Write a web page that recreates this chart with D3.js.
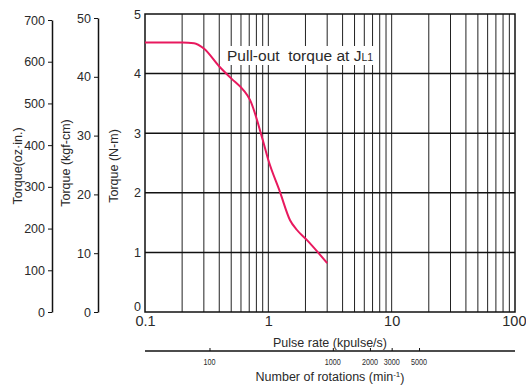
<!DOCTYPE html>
<html lang="en">
<head>
  <meta charset="utf-8">
  <title>Pull-out torque</title>
  <style>
    body { margin: 0; background: #fff; }
    svg { display: block; font-family: "Liberation Sans", Arial, sans-serif; }
    text { fill: #2a2a2a; }
  </style>
</head>
<body>
  <div id="chart"></div>

  <script src="https://d3js.org/d3.v7.min.js"></script>
  <script type="text/javascript">
    // pull-out torque curve, pulse rate (kpulse/s) vs torque (N-m)
    const pulseRate = [0.1, 0.2, 0.25, 0.3, 0.4, 0.5, 0.63, 0.71, 0.9, 1.0, 1.24, 1.5, 1.7, 2.05, 3.0];
    const torqueNm  = [4.52, 4.52, 4.51, 4.42, 4.12, 3.92, 3.72, 3.56, 2.89, 2.55, 2.02, 1.54, 1.38, 1.21, 0.82];

    const nmTicks  = [0, 1, 2, 3, 4, 5];
    const kgfTicks = [0, 10, 20, 30, 40, 50];
    const ozTicks  = [0, 100, 200, 300, 400, 500, 600, 700];
    const pulseTicks = [0.1, 1, 10, 100];
    const rpmTicks = [100, 1000, 2000, 3000, 5000];

    const width = 526;
    const height = 385;
    const plot = { left: 145, right: 515, top: 14, bottom: 312 };

    const svg = d3.select("#chart").append("svg")
      .attr("width", width)
      .attr("height", height);

    const x = d3.scaleLog()
      .domain([0.1, 100])
      .range([plot.left, plot.right]);
    const y = d3.scaleLinear()
      .domain([0, 5])
      .range([plot.bottom, plot.top]);
    // 1 kpulse/s = 300 min-1
    const xRpm = d3.scaleLog()
      .domain([30, 30000])
      .range([plot.left, plot.right]);
    const yKgf = d3.scaleLinear()
      .domain([0, 50])
      .range([plot.bottom, 18]);
    const yOz = d3.scaleLinear()
      .domain([0, 700])
      .range([plot.bottom, 20]);

    // vertical grid
    const minor = [];
    [0.1, 1, 10].forEach(d => {
      for (let i = 2; i <= 9; i++) minor.push(d * i);
    });
    minor.push(1, 10);
    svg.append("g")
      .selectAll("line")
      .data(minor)
      .join("line")
      .attr("x1", d => x(d))
      .attr("x2", d => x(d))
      .attr("y1", plot.top)
      .attr("y2", plot.bottom)
      .attr("stroke", "#222")
      .attr("stroke-width", 1);

    // horizontal grid
    svg.append("g")
      .selectAll("line")
      .data([1, 2, 3, 4])
      .join("line")
      .attr("x1", plot.left)
      .attr("x2", plot.right)
      .attr("y1", d => y(d))
      .attr("y2", d => y(d))
      .attr("stroke", "#111")
      .attr("stroke-width", 1.5);

    svg.append("rect")
      .attr("x", plot.left)
      .attr("y", plot.top)
      .attr("width", plot.right - plot.left)
      .attr("height", plot.bottom - plot.top)
      .attr("fill", "none")
      .attr("stroke", "#111")
      .attr("stroke-width", 1.5);

    // curve label with white box
    const lab = svg.append("g").attr("transform", "translate(227,61)");
    const labText = lab.append("text")
      .attr("x", 0)
      .attr("y", 0)
      .attr("font-size", 15.5)
      .attr("xml:space", "preserve")
      .style("white-space", "pre")
      .text("Pull-out  torque at J");
    labText.append("tspan").attr("font-size", 10.5).text("L1");
    const bb = labText.node().getBBox();
    lab.insert("rect", "text")
      .attr("x", bb.x - 3)
      .attr("y", bb.y - 1)
      .attr("width", bb.width + 6)
      .attr("height", bb.height + 2)
      .attr("fill", "#fff");

    // curve
    const pts = pulseRate.map((p, i) => [p, torqueNm[i]]);
    const line = d3.line()
      .x(d => x(d[0]))
      .y(d => y(d[1]))
      .curve(d3.curveMonotoneX);
    svg.append("path")
      .datum(pts)
      .attr("d", line)
      .attr("fill", "none")
      .attr("stroke", "#e8195e")
      .attr("stroke-width", 2);

    // N-m labels (no ticks)
    svg.append("g")
      .attr("transform", `translate(${plot.left},0)`)
      .call(d3.axisLeft(y).tickValues(nmTicks).tickSize(0).tickPadding(4).tickFormat(d3.format("d")))
      .call(g => g.select(".domain").remove())
      .call(g => g.selectAll("text").attr("font-size", 12.5).attr("font-family", null))
      .call(g => g.selectAll(".tick").filter(d => d === 0).select("text").attr("dy", "-0.1em"));

    // kgf-cm axis
    svg.append("g")
      .attr("transform", "translate(98,0)")
      .call(d3.axisLeft(yKgf).tickValues(kgfTicks).tickSize(4).tickSizeOuter(0).tickPadding(3))
      .call(g => g.select(".domain").attr("stroke", "#111").attr("stroke-width", 1.5))
      .call(g => g.selectAll(".tick line").attr("stroke", "#111"))
      .call(g => g.selectAll("text").attr("font-size", 12.5).attr("font-family", null));

    // oz-in axis
    svg.append("g")
      .attr("transform", "translate(52,0)")
      .call(d3.axisLeft(yOz).tickValues(ozTicks).tickSize(4).tickSizeOuter(0).tickPadding(3))
      .call(g => g.select(".domain").attr("stroke", "#111").attr("stroke-width", 1.5))
      .call(g => g.selectAll(".tick line").attr("stroke", "#111"))
      .call(g => g.selectAll("text").attr("font-size", 12.5).attr("font-family", null));

    // pulse rate labels
    svg.append("g")
      .attr("transform", `translate(0,${plot.bottom})`)
      .call(d3.axisBottom(x).tickValues(pulseTicks).tickSize(0).tickPadding(4).tickFormat(d => String(d)))
      .call(g => g.select(".domain").remove())
      .call(g => g.selectAll("text").attr("font-size", 14.5).attr("font-family", null))
      // last label sits against the right edge
      .call(g => g.selectAll(".tick").filter(d => d === 100).select("text")
        .attr("text-anchor", "end").attr("x", width - plot.right));

    // rotation axis
    const rpmY = 351;
    svg.append("g")
      .attr("transform", `translate(0,${rpmY})`)
      .call(d3.axisTop(xRpm).tickValues(rpmTicks).tickSize(3).tickSizeOuter(0).tickFormat(() => ""))
      .call(g => g.select(".domain").attr("d", `M${plot.left},0H${plot.right}`).attr("stroke", "#111").attr("stroke-width", 1.5))
      .call(g => g.selectAll(".tick line").attr("stroke", "#111"));
    svg.append("g")
      .selectAll("text")
      .data(rpmTicks)
      .join("text")
      .attr("x", d => xRpm(d))
      .attr("y", rpmY + 14)
      .attr("text-anchor", "middle")
      .attr("font-size", 8.5)
      .attr("transform", d => `translate(${xRpm(d)},0) scale(0.85,1) translate(${-xRpm(d)},0)`)
      .text(d => d);

    // axis titles
    svg.append("text")
      .attr("x", 330)
      .attr("y", 347)
      .attr("text-anchor", "middle")
      .attr("font-size", 12.5)
      .text("Pulse rate (kpulse/s)");

    const rot = svg.append("text")
      .attr("x", 330)
      .attr("y", 381)
      .attr("text-anchor", "middle")
      .attr("font-size", 12.5)
      .text("Number of rotations (min");
    rot.append("tspan").attr("font-size", 8).attr("dy", "-0.5em").text("-1");
    rot.append("tspan").attr("dy", "0.4em").text(")");

    const titles = [
      { t: "Torque(oz\u00b7in.)", x: 18, y: 166 },
      { t: "Torque (kgf-cm)", x: 66, y: 163 },
      { t: "Torque (N-m)", x: 114, y: 166 }
    ];
    svg.append("g")
      .selectAll("text")
      .data(titles)
      .join("text")
      .attr("transform", d => `translate(${d.x},${d.y}) rotate(-90)`)
      .attr("text-anchor", "middle")
      .attr("dy", "0.35em")
      .attr("font-size", 12.5)
      .text(d => d.t);
  </script>
</body>
</html>
